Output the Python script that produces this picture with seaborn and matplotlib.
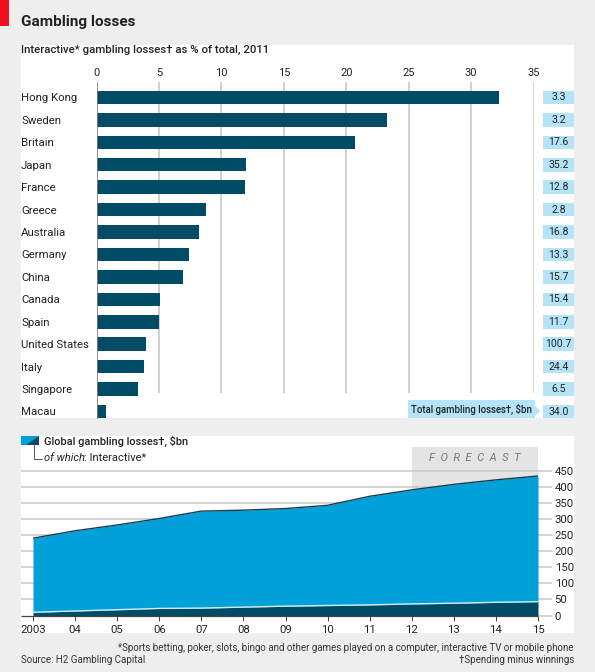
import matplotlib
matplotlib.use('Agg')
import matplotlib.pyplot as plt
import matplotlib.patches as mpatches
import pandas as pd
import seaborn as sns

countries = ['Hong Kong', 'Sweden', 'Britain', 'Japan', 'France', 'Greece', 'Australia',
             'Germany', 'China', 'Canada', 'Spain', 'United States', 'Italy', 'Singapore', 'Macau']
share_pct = [32.2, 23.3, 20.7, 12.0, 11.9, 8.8, 8.2, 7.4, 6.9, 5.1, 5.0, 4.0, 3.8, 3.3, 0.8]
total_bn = ['3.3', '3.2', '17.6', '35.2', '12.8', '2.8', '16.8', '13.3', '15.7', '15.4', '11.7',
            '100.7', '24.4', '6.5', '34.0']
share_ticks = [0, 5, 10, 15, 20, 25, 30, 35]

years = list(range(2003, 2016))
year_labels = ['2003', '04', '05', '06', '07', '08', '09', '10', '11', '12', '13', '14', '15']
global_bn = [240, 263, 281, 301, 324, 327, 332, 342, 370, 390, 407, 421, 433]
interactive_bn = [10, 14, 18, 22, 23, 26, 29, 31, 33, 36, 38, 41, 43]
loss_ticks = list(range(0, 451, 50))

W, H = 595, 672
BG = '#eeeeee'
DARK = '#004c66'
BLUE = '#00a0d9'
PALE = '#b5e4f9'
GRID = '#c8c8c8'
INK = '#222222'

sns.set_theme(style='white')
plt.rcParams['font.family'] = ['Roboto', 'DejaVu Sans']


def axes_px(fig, x0, y0, x1, y1, **kw):
    # pixel box, origin top left
    return fig.add_axes([x0 / W, 1 - y1 / H, (x1 - x0) / W, (y1 - y0) / H], **kw)


fig = plt.figure(figsize=(W / 100, H / 100), dpi=100, facecolor=BG)

# --- Page furniture in pixel coordinates ---
page = axes_px(fig, 0, 0, W, H)
page.set_xlim(0, W)
page.set_ylim(H, 0)
page.axis('off')
page.add_patch(mpatches.Rectangle((0, 0), 9, 26, color='#f0101e', lw=0))
page.add_patch(mpatches.Rectangle((21, 45), 553, 373, color='white', lw=0))
page.add_patch(mpatches.Rectangle((21, 436), 553, 197, color='white', lw=0))
page.text(21, 22, 'Gambling losses', fontsize=11, fontweight='bold', color=INK, va='center')
page.text(21, 50, 'Interactive* gambling losses† as % of total, 2011', fontsize=8.2,
          fontweight='medium', color=INK, va='center')

# Value boxes beside the bars
row_y = [97.5 + 22.43 * i for i in range(len(countries))]
for y, label in zip(row_y, total_bn):
    page.add_patch(mpatches.Rectangle((543, y - 6.8), 31, 13.6, color=PALE, lw=0))
    page.text(558.5, y, label, fontsize=7.6, color=INK, ha='center', va='center')
page.add_patch(mpatches.Polygon([(408, 400), (535, 400), (535, 406), (540, 411), (535, 416),
                                 (535, 418), (408, 418)], closed=True, color=PALE, lw=0))
page.text(411, 409.5, 'Total gambling losses†, $bn', fontsize=6.9, fontweight='medium',
          color=INK, va='center')

# Legend key of the lower chart
page.add_patch(mpatches.Rectangle((21, 436), 18, 9, color=BLUE, lw=0, zorder=1))
page.add_patch(mpatches.Polygon([(26, 445), (39, 445), (39, 436)], closed=True, color=DARK, lw=0, zorder=2))
page.plot([34, 34, 42], [445, 459, 459], color='#555555', lw=0.7)
page.text(44, 441, 'Global gambling losses†, $bn', fontsize=7.9, fontweight='medium',
          color=INK, va='center')
page.text(44, 458, 'of which', fontsize=8, style='italic', color=INK, va='center')
page.text(84, 458, ': Interactive*', fontsize=8, color=INK, va='center')

# Footer
page.text(574, 648, '*Sports betting, poker, slots, bingo and other games played on a computer, '
          'interactive TV or mobile phone', fontsize=7, color='#333333', ha='right', va='center')
page.text(574, 660, '†Spending minus winnings', fontsize=7, color='#333333', ha='right', va='center')
page.text(21, 660, 'Source: H2 Gambling Capital', fontsize=7, color='#333333', va='center')

# --- Chart 1: bars ---
ax = axes_px(fig, 96.5, 82, 533.5, 418)
ax.patch.set_alpha(0)
shares = pd.DataFrame({'country': countries, 'share': share_pct})
ax.vlines(share_ticks[1:], -0.69, 13.17, color=GRID, lw=1.2, zorder=1)
sns.barplot(data=shares, x='share', y='country', color=DARK, saturation=1, width=0.6,
            linewidth=0, ax=ax, zorder=2)
ax.set_xlim(0, 35)
ax.set_ylim(14.29, -0.69)
ax.set_xlabel('')
ax.set_ylabel('')
ax.xaxis.tick_top()
ax.set_xticks(share_ticks)
ax.tick_params(axis='x', length=0, pad=3, labelsize=8, labelcolor=INK)
ax.tick_params(axis='y', length=0, pad=75.5 * 0.72, labelsize=8.2, labelcolor=INK)
for lab in ax.get_yticklabels():
    lab.set_ha('left')
for side in ['top', 'right', 'bottom']:
    ax.spines[side].set_visible(False)
ax.spines['left'].set_color('#8a7a7a')
ax.spines['left'].set_linewidth(0.6)
ax.set_zorder(3)

# --- Chart 2: stacked area ---
ax2 = axes_px(fig, 33, 447, 538, 615.5)
ax2.patch.set_alpha(0)
ax2.set_xlim(2003, 2015)
ax2.set_ylim(0, (615.5 - 447) / 0.3222)
ax2.axvspan(2012, 2015, color='#e4e4e4', lw=0, zorder=0)
left_edge = 2003 - 12 * 12 / 505
ax2.hlines(loss_ticks[1:], left_edge, 2015, color=GRID, lw=1.1, clip_on=False, zorder=1)
ax2.fill_between(years, interactive_bn, global_bn, color=BLUE, lw=0, zorder=2)
ax2.fill_between(years, 0, interactive_bn, color=DARK, lw=0, zorder=3)
sns.lineplot(x=years, y=global_bn, color='#1c3c4c', lw=1, ax=ax2, zorder=4)
sns.lineplot(x=years, y=interactive_bn, color='#cdeefa', lw=1, ax=ax2, zorder=4)
ax2.hlines(0, left_edge, 2015, color='#444444', lw=0.9, clip_on=False, zorder=5)
ax2.text(0.875, 0.932, 'F  O  R  E  C  A  S  T', fontsize=8, style='italic', color='#777777',
         ha='center', va='center', transform=ax2.transAxes, zorder=5)

ax2.set_xticks(years)
ax2.set_xticklabels(year_labels)
ax2.yaxis.tick_right()
ax2.set_yticks(loss_ticks)
ax2.tick_params(axis='x', length=3.6, width=0.7, color='#444444', pad=3, labelsize=8.2, labelcolor=INK, bottom=True)
ax2.tick_params(axis='y', length=10, width=1.1, color=GRID, pad=2, labelsize=8.2, labelcolor=INK, right=True)
for side in ax2.spines:
    ax2.spines[side].set_visible(False)
ax2.set_xlabel('')
ax2.set_ylabel('')

fig.savefig('out.png', dpi=100)
